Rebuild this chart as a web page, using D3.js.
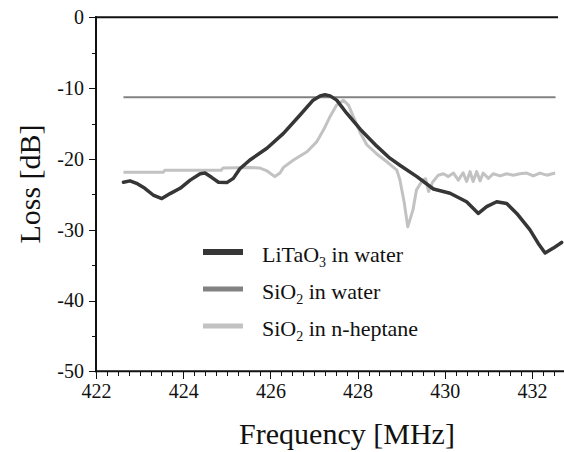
<!DOCTYPE html>
<html>
<head>
<meta charset="utf-8">
<title>Loss vs frequency</title>
<script src="https://cdnjs.cloudflare.com/ajax/libs/d3/7.8.5/d3.min.js"></script>
<style>
  body { margin: 0; background: #fff; }
  svg text { font-family: "Liberation Serif", "DejaVu Serif", serif; fill: #111; }
  .axis path, .axis line { stroke: #111; shape-rendering: crispEdges; }
</style>
</head>
<body>
<div id="chart"></div>
<script>
// LiTaO3 in water
var litaoFreq = [422.63, 422.78, 422.93, 423.12, 423.31, 423.51, 423.70, 423.93, 424.16, 424.39,
                 424.50, 424.65, 424.81, 425.00, 425.15, 425.30, 425.53, 425.92, 426.30, 426.68,
                 426.98, 427.14, 427.25, 427.37, 427.52, 427.75, 428.06, 428.44, 428.74, 428.97,
                 429.36, 429.74, 430.12, 430.50, 430.77, 430.96, 431.19, 431.42, 431.65, 431.95,
                 432.14, 432.30, 432.49, 432.68];
var litaoLoss = [-23.3, -23.1, -23.45, -24.15, -25.1, -25.6, -24.9, -24.15, -23.0, -22.1,
                 -22.0, -22.6, -23.3, -23.35, -22.75, -21.4, -20.15, -18.5, -16.4, -13.8,
                 -11.7, -11.1, -10.95, -11.1, -11.7, -13.55, -15.8, -18.2, -19.9, -20.9,
                 -22.5, -24.25, -24.85, -26.05, -27.7, -26.75, -26.05, -26.3, -27.7, -30.0,
                 -31.9, -33.3, -32.6, -31.8];

// SiO2 in water
var sio2WaterFreq = [422.63, 425.0, 427.5, 430.0, 432.54];
var sio2WaterLoss = [-11.3, -11.3, -11.3, -11.3, -11.3];

// SiO2 in n-heptane
var sio2HeptFreq = [422.63, 423.54, 423.58, 424.87, 424.91, 425.53, 425.76, 425.91, 426.10, 426.22,
                    426.30, 426.53, 426.84, 427.06, 427.22, 427.37, 427.52, 427.67, 427.79, 427.90,
                    428.06, 428.21, 428.44, 428.67, 428.90, 428.97, 429.07, 429.15, 429.27, 429.35,
                    429.49, 429.56, 429.63, 429.72, 429.85, 429.97, 430.08, 430.20, 430.31, 430.42,
                    430.50, 430.58, 430.65, 430.73, 430.81, 430.88, 431.00, 431.11, 431.27, 431.42,
                    431.57, 431.72, 431.88, 432.03, 432.18, 432.34, 432.53];
var sio2HeptLoss = [-21.9, -21.9, -21.6, -21.6, -21.3, -21.2, -21.3, -21.65, -22.5, -22.0,
                    -21.2, -20.15, -19.0, -17.6, -15.9, -14.0, -12.4, -11.7, -12.4, -14.0,
                    -16.3, -18.0, -19.3, -20.4, -21.6, -22.95, -26.2, -29.6, -27.2, -24.4,
                    -23.0, -22.8, -24.6, -23.3, -22.3, -22.1, -22.5, -22.0, -23.0, -21.95,
                    -23.2, -21.8, -23.2, -21.8, -23.1, -22.0, -22.75, -22.1, -22.4, -22.1,
                    -22.3, -22.1, -22.0, -22.4, -22.0, -22.3, -22.0];

var xMajor = [422, 424, 426, 428, 430, 432];
var yMajor = [-50, -40, -30, -20, -10, 0];
var legendLabels = [["LiTaO", "3", " in water"], ["SiO", "2", " in water"], ["SiO", "2", " in n-heptane"]];
var colors = ["#363636", "#828282", "#c2c2c2"];

var W = 564, H = 452;
var svg = d3.select("#chart").append("svg")
    .attr("width", W)
    .attr("height", H);
svg.append("rect").attr("width", W).attr("height", H).attr("fill", "#fff");

var x = d3.scaleLinear().domain([422, 433]).range([96, 96 + 11 * 43.6]);
var y = d3.scaleLinear().domain([-50, 0]).range([371.3, 17.3]);

// minor ticks first, then the labelled ones
var xMinor = d3.range(422, 432.8, 0.25);
svg.append("g").attr("class", "axis")
    .attr("transform", "translate(0," + y(-50) + ")")
    .call(d3.axisBottom(x).tickValues(xMinor).tickSize(5).tickFormat(""))
    .call(function(g) { g.select(".domain").remove(); });
svg.append("g").attr("class", "axis")
    .attr("transform", "translate(0," + y(-50) + ")")
    .call(d3.axisBottom(x).tickValues(xMajor).tickSize(8).tickPadding(5).tickFormat(function(d) { return d; }))
    .call(function(g) {
      g.select(".domain").remove();
      g.selectAll("text").attr("font-size", 20);
    });

var yMinor = d3.range(-50, 1, 5);
svg.append("g").attr("class", "axis")
    .attr("transform", "translate(" + x(422) + ",0)")
    .call(d3.axisLeft(y).tickValues(yMinor).tickSize(4).tickFormat(""))
    .call(function(g) { g.select(".domain").remove(); });
svg.append("g").attr("class", "axis")
    .attr("transform", "translate(" + x(422) + ",0)")
    .call(d3.axisLeft(y).tickValues(yMajor).tickSize(7).tickPadding(5).tickFormat(function(d) { return String(d); }))
    .call(function(g) {
      g.select(".domain").remove();
      g.selectAll("text").attr("font-size", 20);
    });

// frame: left, bottom, top
svg.append("line").attr("x1", x(422)).attr("x2", x(422)).attr("y1", y(0) - 1).attr("y2", y(-50) + 1)
    .attr("stroke", "#111").attr("stroke-width", 2);
svg.append("line").attr("x1", x(422) - 1).attr("x2", W).attr("y1", y(-50)).attr("y2", y(-50))
    .attr("stroke", "#111").attr("stroke-width", 2);
svg.append("line").attr("x1", x(422) - 1).attr("x2", 558).attr("y1", y(0)).attr("y2", y(0))
    .attr("stroke", "#111").attr("stroke-width", 2);

var line = d3.line()
    .x(function(d) { return x(d[0]); })
    .y(function(d) { return y(d[1]); });

function pairs(f, l) { return f.map(function(v, i) { return [v, l[i]]; }); }

svg.append("path").datum(pairs(sio2WaterFreq, sio2WaterLoss))
    .attr("fill", "none").attr("stroke", colors[1]).attr("stroke-width", 2).attr("d", line);
svg.append("path").datum(pairs(sio2HeptFreq, sio2HeptLoss))
    .attr("fill", "none").attr("stroke", colors[2]).attr("stroke-width", 3)
    .attr("stroke-linejoin", "round").attr("d", line);
svg.append("path").datum(pairs(litaoFreq, litaoLoss))
    .attr("fill", "none").attr("stroke", colors[0]).attr("stroke-width", 3.5)
    .attr("stroke-linejoin", "round").attr("stroke-linecap", "round").attr("d", line);

// legend
var legend = svg.append("g").selectAll("g")
    .data(legendLabels)
    .enter().append("g")
    .attr("transform", function(d, i) { return "translate(0," + (252 + i * 37) + ")"; });
legend.append("line")
    .attr("x1", 203).attr("x2", 243)
    .attr("stroke", function(d, i) { return colors[i]; })
    .attr("stroke-width", function(d, i) { return i == 0 ? 6 : 5; });
var lt = legend.append("text")
    .attr("x", 262).attr("y", 10)
    .attr("font-size", 22);
lt.append("tspan").text(function(d) { return d[0]; });
lt.append("tspan").attr("dy", 5).attr("font-size", 14).text(function(d) { return d[1]; });
lt.append("tspan").attr("dy", -5).text(function(d) { return d[2]; });

// axis titles
svg.append("text")
    .attr("text-anchor", "middle")
    .attr("font-size", 30)
    .attr("transform", "translate(40,184)rotate(-90)")
    .text("Loss [dB]");
svg.append("text")
    .attr("text-anchor", "middle")
    .attr("font-size", 30)
    .attr("x", 347).attr("y", 444)
    .text("Frequency [MHz]");
</script>
</body>
</html>
